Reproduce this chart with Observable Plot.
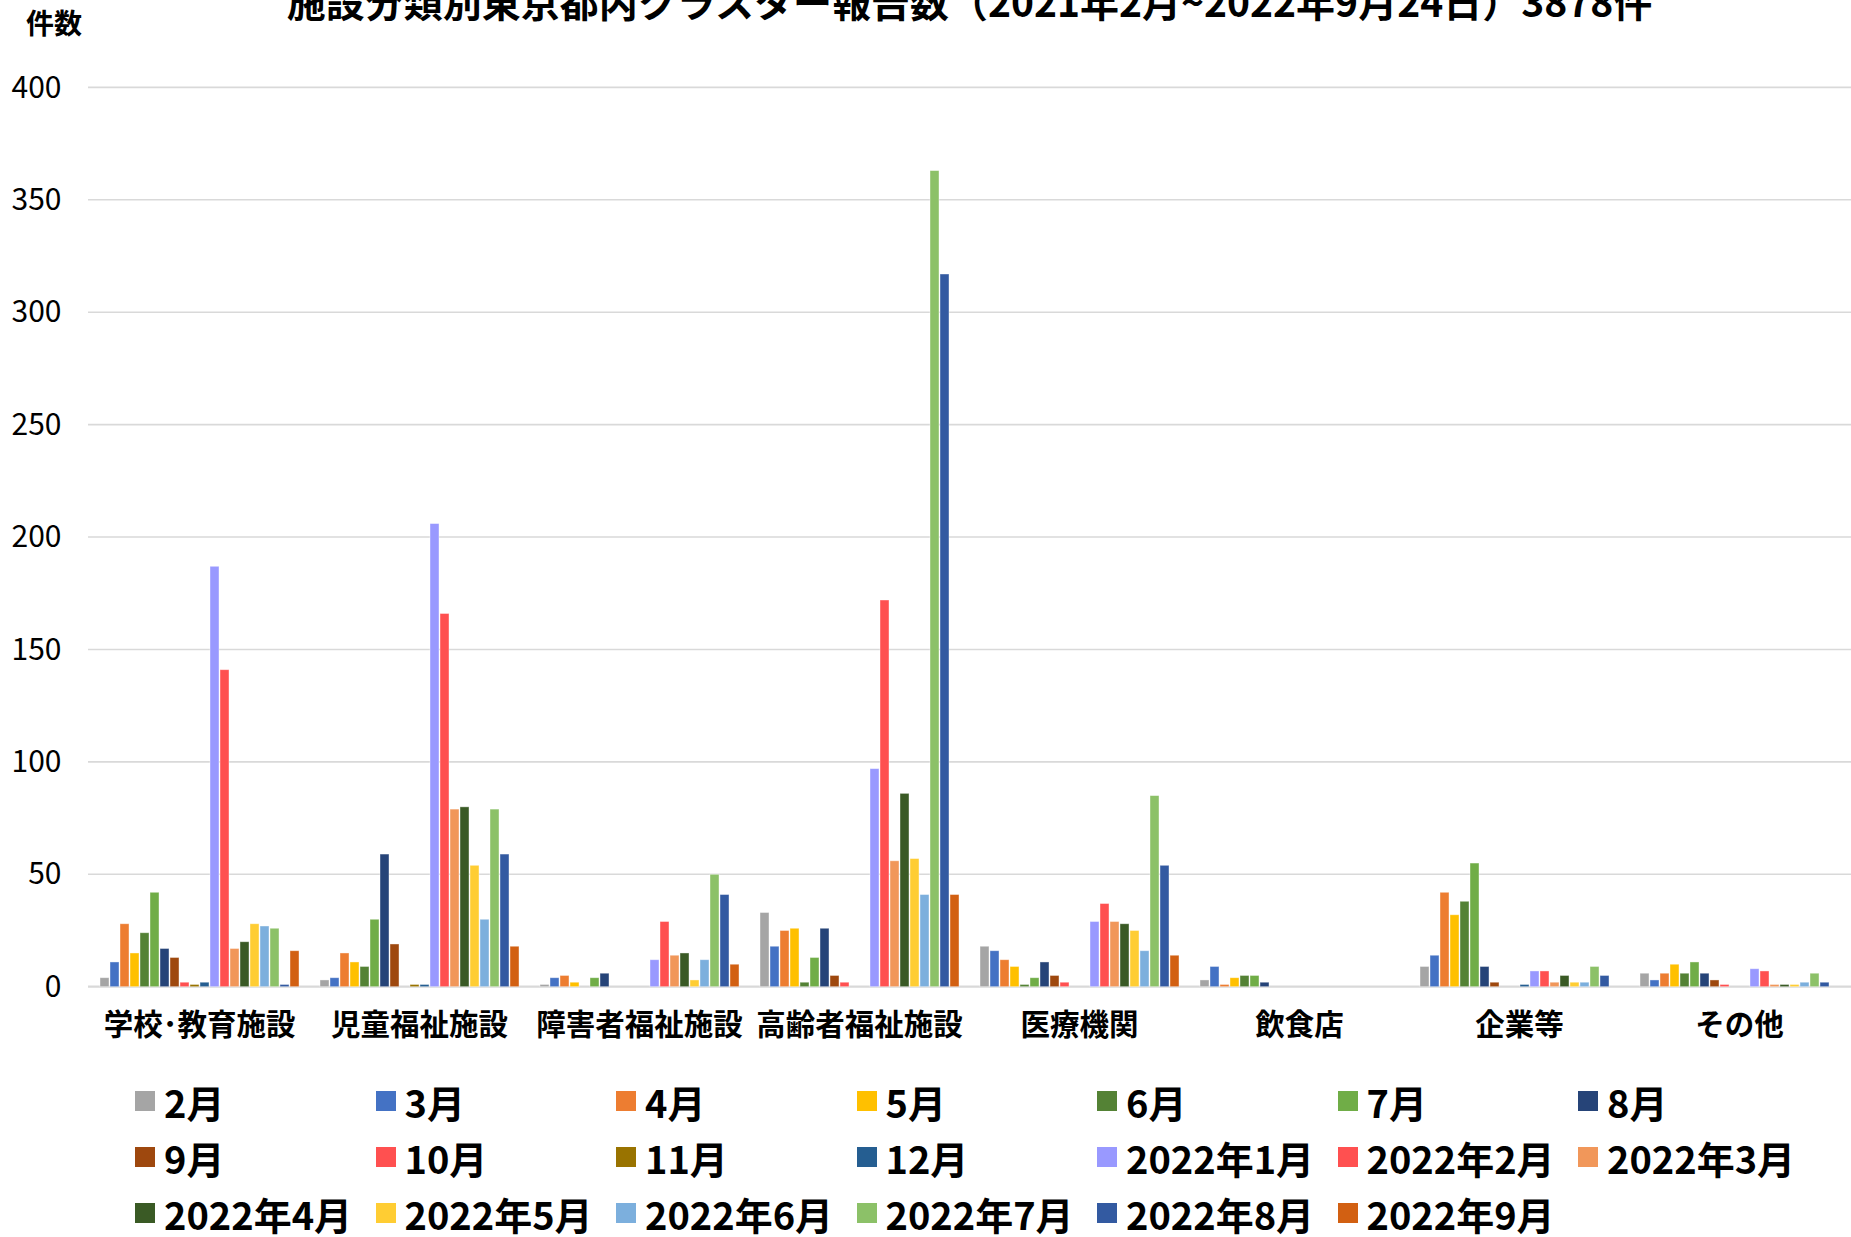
<!DOCTYPE html>
<html>
<head>
<meta charset="utf-8">
<script src="https://cdn.jsdelivr.net/npm/d3@7"></script>
<script src="https://cdn.jsdelivr.net/npm/@observablehq/plot@0.6"></script>
<style>
  html, body { margin: 0; padding: 0; background: #fff; }
  #wrap { position: relative; width: 1851px; height: 1237px; overflow: hidden; background: #fff;
          font-family: "Noto Sans CJK JP", "Noto Sans", sans-serif; color: #000; }
  #title { position: absolute; left: 88px; width: 1763px; top: -20px; text-align: center;
           font-size: 39px; font-weight: bold; line-height: 40px; white-space: nowrap; }
  #ylabel { position: absolute; left: 26px; top: 4px; font-size: 28px; font-weight: bold; line-height: 36px; }
  #chart { position: absolute; left: 0; top: 0; }
  #legend { position: absolute; left: 135px; top: 1073px; display: grid;
            grid-template-columns: repeat(7, 240.5px); grid-auto-rows: 56px; }
  .item { display: flex; align-items: center; font-size: 38px; font-weight: bold; white-space: nowrap; }
  .sw { width: 20px; height: 20px; margin-right: 9px; flex: none; }
</style>
</head>
<body>
<div id="wrap">
  <div id="chart"></div>
  <div id="title">施設分類別東京都内クラスター報告数（2021年2月~2022年9月24日）3878件</div>
  <div id="ylabel">件数</div>
  <div id="legend"></div>
</div>
<script>
const categories = ["学校･教育施設", "児童福祉施設", "障害者福祉施設", "高齢者福祉施設", "医療機関", "飲食店", "企業等", "その他"];
const months = ["2月", "3月", "4月", "5月", "6月", "7月", "8月", "9月", "10月", "11月", "12月",
  "2022年1月", "2022年2月", "2022年3月", "2022年4月", "2022年5月", "2022年6月", "2022年7月", "2022年8月", "2022年9月"];
const colors = ["#A5A5A5", "#4472C4", "#ED7D31", "#FFC000", "#548235", "#70AD47", "#264478", "#9E480E", "#FF5050", "#997300", "#255E91",
  "#9999FF", "#FF5050", "#F1975A", "#3A5A25", "#FFCD33", "#7CAFDD", "#8CC168", "#335AA1", "#D26012"];

// values per category, in the order of months
const gakko   = [4, 11, 28, 15, 24, 42, 17, 13, 2, 1, 2, 187, 141, 17, 20, 28, 27, 26, 1, 16];
const jido    = [3, 4, 15, 11, 9, 30, 59, 19, 0, 1, 1, 206, 166, 79, 80, 54, 30, 79, 59, 18];
const shogai  = [1, 4, 5, 2, 0, 4, 6, 0, 0, 0, 0, 12, 29, 14, 15, 3, 12, 50, 41, 10];
const koreisha= [33, 18, 25, 26, 2, 13, 26, 5, 2, 0, 0, 97, 172, 56, 86, 57, 41, 363, 317, 41];
const iryo    = [18, 16, 12, 9, 1, 4, 11, 5, 2, 0, 0, 29, 37, 29, 28, 25, 16, 85, 54, 14];
const inshoku = [3, 9, 1, 4, 5, 5, 2, 0, 0, 0, 0, 0, 0, 0, 0, 0, 0, 0, 0, 0];
const kigyo   = [9, 14, 42, 32, 38, 55, 9, 2, 0, 0, 1, 7, 7, 2, 5, 2, 2, 9, 5, 0];
const sonota  = [6, 3, 6, 10, 6, 11, 6, 3, 1, 0, 0, 8, 7, 1, 1, 1, 2, 6, 2, 0];
const seriesByCategory = [gakko, jido, shogai, koreisha, iryo, inshoku, kigyo, sonota];
const yTicks = [0, 50, 100, 150, 200, 250, 300, 350, 400];

const data = [];
categories.forEach((c, i) => months.forEach((m, j) => data.push({cat: c, month: m, value: seriesByCategory[i][j]})));

const W = 1851, H = 1060, ML = 88, MR = 0, MT = 87.4, MB = 73.3;

const chart = Plot.plot({
  width: W, height: H,
  marginLeft: ML, marginRight: MR, marginTop: MT, marginBottom: MB,
  style: {fontFamily: "'Noto Sans CJK JP', 'Noto Sans', sans-serif", fontSize: "30px", color: "#000", background: "white", overflow: "visible"},
  fx: {domain: categories, paddingInner: 0.08, paddingOuter: 0.04, label: null, tickSize: 0, tickPadding: 27, axis: "bottom"},
  x: {domain: months, axis: null, paddingInner: 0.14, paddingOuter: 0},
  y: {domain: [0, 400], ticks: yTicks, tickSize: 0, tickPadding: 37, label: null, grid: false},
  color: {domain: months, range: colors},
  marks: [
    Plot.barY(data, {fx: "cat", x: "month", y: "value", fill: "month", stroke: "white", strokeWidth: 0.8, strokeOpacity: 0.5})
  ]
});

const svg = d3.select(chart.tagName.toLowerCase() === "svg" ? chart : chart.querySelector("svg"));
const yScale = chart.scale("y");
const grid = svg.insert("g", "g");
grid.selectAll("line").data(yTicks).join("line")
  .attr("x1", ML).attr("x2", W - MR)
  .attr("y1", d => yScale.apply(d)).attr("y2", d => yScale.apply(d))
  .attr("stroke", "#D9D9D9")
  .attr("stroke-width", d => d === 0 ? 2.2 : 1.6);
svg.selectAll('g[aria-label^="fx-axis"] text').attr("font-weight", "bold").attr("font-size", 29.5);
svg.selectAll('g[aria-label^="y-axis"] text').attr("font-size", 30);

document.getElementById("chart").appendChild(chart);

const legend = d3.select("#legend");
months.forEach((m, i) => {
  const it = legend.append("div").attr("class", "item");
  it.append("div").attr("class", "sw").style("background", colors[i]);
  it.append("span").text(m);
});
</script>
</body>
</html>
